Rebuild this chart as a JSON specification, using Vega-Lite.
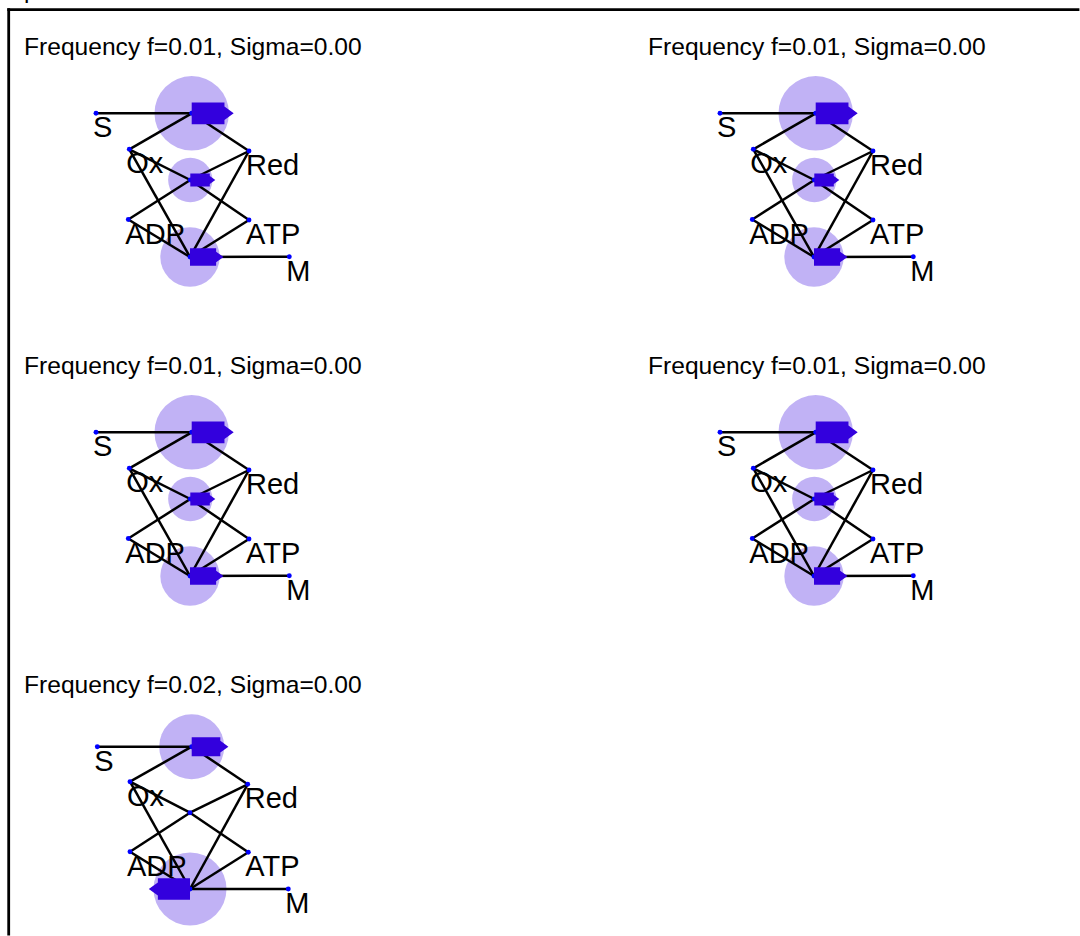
{
  "$schema": "https://vega.github.io/schema/vega-lite/v6.json",
  "autosize": {"type": "pad"},
  "padding": {"left": 6, "top": -21, "right": 0, "bottom": 0},
  "datasets": {
    "graph": [
      {"kind": "frame", "panel": 1, "caption": "p"},

      {"kind": "title", "panel": 1, "text": "Frequency f=0.01, Sigma=0.00"},
      {"kind": "title", "panel": 2, "text": "Frequency f=0.01, Sigma=0.00"},
      {"kind": "title", "panel": 3, "text": "Frequency f=0.01, Sigma=0.00"},
      {"kind": "title", "panel": 4, "text": "Frequency f=0.01, Sigma=0.00"},
      {"kind": "title", "panel": 5, "text": "Frequency f=0.02, Sigma=0.00"},

      {"kind": "species", "panel": 1, "label": "S", "x": 7.2, "y": 7.73, "links": ["S-R1"]},
      {"kind": "species", "panel": 1, "label": "Ox", "x": 10.53, "y": 11.33, "links": ["Ox-R1", "Ox-R2", "Ox-R3"]},
      {"kind": "species", "panel": 1, "label": "Red", "x": 22.5, "y": 11.5, "links": ["Red-R1", "Red-R2", "Red-R3"]},
      {"kind": "species", "panel": 1, "label": "ADP", "x": 10.43, "y": 18.35, "links": ["ADP-R2", "ADP-R3"]},
      {"kind": "species", "panel": 1, "label": "ATP", "x": 22.5, "y": 18.4, "links": ["ATP-R2", "ATP-R3"]},
      {"kind": "species", "panel": 1, "label": "M", "x": 26.53, "y": 22.08, "links": ["M-R3"]},
      {"kind": "reaction", "panel": 1, "x": 16.77, "y": 7.73, "v": 4.2, "dir": "forward", "links": ["S-R1", "Ox-R1", "Red-R1"]},
      {"kind": "reaction", "panel": 1, "x": 16.63, "y": 14.4, "v": 2.5, "dir": "forward", "links": ["Ox-R2", "Red-R2", "ADP-R2", "ATP-R2"]},
      {"kind": "reaction", "panel": 1, "x": 16.6, "y": 22.1, "v": 3.35, "dir": "forward", "links": ["Ox-R3", "Red-R3", "ADP-R3", "ATP-R3", "M-R3"]},

      {"kind": "species", "panel": 2, "label": "S", "x": 7.2, "y": 7.73, "links": ["S-R1"]},
      {"kind": "species", "panel": 2, "label": "Ox", "x": 10.53, "y": 11.33, "links": ["Ox-R1", "Ox-R2", "Ox-R3"]},
      {"kind": "species", "panel": 2, "label": "Red", "x": 22.5, "y": 11.5, "links": ["Red-R1", "Red-R2", "Red-R3"]},
      {"kind": "species", "panel": 2, "label": "ADP", "x": 10.43, "y": 18.35, "links": ["ADP-R2", "ADP-R3"]},
      {"kind": "species", "panel": 2, "label": "ATP", "x": 22.5, "y": 18.4, "links": ["ATP-R2", "ATP-R3"]},
      {"kind": "species", "panel": 2, "label": "M", "x": 26.53, "y": 22.08, "links": ["M-R3"]},
      {"kind": "reaction", "panel": 2, "x": 16.77, "y": 7.73, "v": 4.2, "dir": "forward", "links": ["S-R1", "Ox-R1", "Red-R1"]},
      {"kind": "reaction", "panel": 2, "x": 16.63, "y": 14.4, "v": 2.5, "dir": "forward", "links": ["Ox-R2", "Red-R2", "ADP-R2", "ATP-R2"]},
      {"kind": "reaction", "panel": 2, "x": 16.6, "y": 22.1, "v": 3.35, "dir": "forward", "links": ["Ox-R3", "Red-R3", "ADP-R3", "ATP-R3", "M-R3"]},

      {"kind": "species", "panel": 3, "label": "S", "x": 7.2, "y": 7.73, "links": ["S-R1"]},
      {"kind": "species", "panel": 3, "label": "Ox", "x": 10.53, "y": 11.33, "links": ["Ox-R1", "Ox-R2", "Ox-R3"]},
      {"kind": "species", "panel": 3, "label": "Red", "x": 22.5, "y": 11.5, "links": ["Red-R1", "Red-R2", "Red-R3"]},
      {"kind": "species", "panel": 3, "label": "ADP", "x": 10.43, "y": 18.35, "links": ["ADP-R2", "ADP-R3"]},
      {"kind": "species", "panel": 3, "label": "ATP", "x": 22.5, "y": 18.4, "links": ["ATP-R2", "ATP-R3"]},
      {"kind": "species", "panel": 3, "label": "M", "x": 26.53, "y": 22.08, "links": ["M-R3"]},
      {"kind": "reaction", "panel": 3, "x": 16.77, "y": 7.73, "v": 4.2, "dir": "forward", "links": ["S-R1", "Ox-R1", "Red-R1"]},
      {"kind": "reaction", "panel": 3, "x": 16.63, "y": 14.4, "v": 2.5, "dir": "forward", "links": ["Ox-R2", "Red-R2", "ADP-R2", "ATP-R2"]},
      {"kind": "reaction", "panel": 3, "x": 16.6, "y": 22.1, "v": 3.35, "dir": "forward", "links": ["Ox-R3", "Red-R3", "ADP-R3", "ATP-R3", "M-R3"]},

      {"kind": "species", "panel": 4, "label": "S", "x": 7.2, "y": 7.73, "links": ["S-R1"]},
      {"kind": "species", "panel": 4, "label": "Ox", "x": 10.53, "y": 11.33, "links": ["Ox-R1", "Ox-R2", "Ox-R3"]},
      {"kind": "species", "panel": 4, "label": "Red", "x": 22.5, "y": 11.5, "links": ["Red-R1", "Red-R2", "Red-R3"]},
      {"kind": "species", "panel": 4, "label": "ADP", "x": 10.43, "y": 18.35, "links": ["ADP-R2", "ADP-R3"]},
      {"kind": "species", "panel": 4, "label": "ATP", "x": 22.5, "y": 18.4, "links": ["ATP-R2", "ATP-R3"]},
      {"kind": "species", "panel": 4, "label": "M", "x": 26.53, "y": 22.08, "links": ["M-R3"]},
      {"kind": "reaction", "panel": 4, "x": 16.77, "y": 7.73, "v": 4.2, "dir": "forward", "links": ["S-R1", "Ox-R1", "Red-R1"]},
      {"kind": "reaction", "panel": 4, "x": 16.63, "y": 14.4, "v": 2.5, "dir": "forward", "links": ["Ox-R2", "Red-R2", "ADP-R2", "ATP-R2"]},
      {"kind": "reaction", "panel": 4, "x": 16.6, "y": 22.1, "v": 3.35, "dir": "forward", "links": ["Ox-R3", "Red-R3", "ADP-R3", "ATP-R3", "M-R3"]},

      {"kind": "species", "panel": 5, "label": "S", "x": 7.33, "y": 7.27, "links": ["S-R1"]},
      {"kind": "species", "panel": 5, "label": "Ox", "x": 10.6, "y": 10.77, "links": ["Ox-R1", "Ox-R2", "Ox-R3"]},
      {"kind": "species", "panel": 5, "label": "Red", "x": 22.37, "y": 11.03, "links": ["Red-R1", "Red-R2", "Red-R3"]},
      {"kind": "species", "panel": 5, "label": "ADP", "x": 10.6, "y": 17.77, "links": ["ADP-R2", "ADP-R3"]},
      {"kind": "species", "panel": 5, "label": "ATP", "x": 22.43, "y": 17.83, "links": ["ATP-R2", "ATP-R3"]},
      {"kind": "species", "panel": 5, "label": "M", "x": 26.43, "y": 21.5, "links": ["M-R3"]},
      {"kind": "reaction", "panel": 5, "x": 16.77, "y": 7.27, "v": 3.67, "dir": "forward", "links": ["S-R1", "Ox-R1", "Red-R1"]},
      {"kind": "reaction", "panel": 5, "x": 16.6, "y": 13.87, "v": 0.12, "dir": "forward", "links": ["Ox-R2", "Red-R2", "ADP-R2", "ATP-R2"]},
      {"kind": "reaction", "panel": 5, "x": 16.6, "y": 21.5, "v": 4.12, "dir": "reverse", "links": ["Ox-R3", "Red-R3", "ADP-R3", "ATP-R3", "M-R3"]}
    ]
  },
  "data": {"name": "graph"},
  "facet": {"field": "panel", "type": "ordinal", "header": {"labels": false, "title": null, "labelFontSize": 0, "labelPadding": 0, "labelColor": "transparent"}},
  "columns": 2,
  "spacing": {"row": 59, "column": 224},
  "bounds": "flush",
  "spec": {
    "width": 400,
    "height": 260,
    "layer": [
      {
        "transform": [{"filter": "datum.kind === 'frame'"}],
        "mark": {"type": "rule", "color": "black", "strokeWidth": 2.8, "strokeCap": "square"},
        "encoding": {
          "x": {"datum": -1.53, "type": "quantitative", "axis": null, "scale": {"domain": [0, 40], "nice": false, "zero": false}},
          "x2": {"datum": 105.4},
          "y": {"datum": -2.63, "type": "quantitative", "axis": null, "scale": {"domain": [0, 26], "nice": false, "zero": false, "reverse": true}}
        }
      },
      {
        "transform": [{"filter": "datum.kind === 'frame'"}],
        "mark": {"type": "rule", "color": "black", "strokeWidth": 2.8, "strokeCap": "square"},
        "encoding": {
          "x": {"datum": -1.53, "type": "quantitative", "axis": null},
          "y": {"datum": -2.63, "type": "quantitative", "axis": null},
          "y2": {"datum": 89.8}
        }
      },
      {
        "transform": [{"filter": "datum.kind === 'frame'"}],
        "mark": {"type": "text", "align": "left", "baseline": "alphabetic", "fontSize": 24, "color": "black"},
        "encoding": {
          "x": {"datum": 0, "type": "quantitative", "axis": null},
          "y": {"datum": -3.8, "type": "quantitative", "axis": null},
          "text": {"field": "caption"}
        }
      },
      {
        "transform": [{"filter": "datum.kind === 'title'"}],
        "mark": {"type": "text", "align": "left", "baseline": "top", "fontSize": 24.6, "color": "black"},
        "encoding": {
          "x": {"datum": 0, "type": "quantitative", "axis": null},
          "y": {"datum": 0, "type": "quantitative", "axis": null},
          "text": {"field": "text"}
        }
      },
      {
        "transform": [{"filter": "datum.kind === 'reaction'"}],
        "mark": {"type": "point", "shape": "circle", "filled": true, "color": "#3300dd", "opacity": 0.3, "strokeWidth": 0},
        "encoding": {
          "x": {"field": "x", "type": "quantitative", "axis": null},
          "y": {"field": "y", "type": "quantitative", "axis": null},
          "size": {"field": "v", "type": "quantitative", "legend": null, "scale": {"type": "pow", "exponent": 2, "domain": [0, 5], "range": [0, 7854], "zero": true}}
        }
      },
      {
        "transform": [
          {"filter": "datum.kind === 'species' || datum.kind === 'reaction'"},
          {"flatten": ["links"]}
        ],
        "mark": {"type": "line", "color": "black", "strokeWidth": 2.5},
        "encoding": {
          "x": {"field": "x", "type": "quantitative", "axis": null},
          "y": {"field": "y", "type": "quantitative", "axis": null},
          "detail": {"field": "links", "type": "nominal"}
        }
      },
      {
        "transform": [{"filter": "datum.kind === 'species' || datum.kind === 'reaction'"}],
        "mark": {"type": "point", "shape": "circle", "filled": true, "color": "#0000ff", "opacity": 1, "size": 24, "strokeWidth": 0},
        "encoding": {
          "x": {"field": "x", "type": "quantitative", "axis": null},
          "y": {"field": "y", "type": "quantitative", "axis": null}
        }
      },
      {
        "transform": [{"filter": "datum.kind === 'reaction'"}],
        "mark": {"type": "point", "filled": true, "color": "#3300dd", "opacity": 1, "strokeWidth": 0},
        "encoding": {
          "x": {"field": "x", "type": "quantitative", "axis": null},
          "y": {"field": "y", "type": "quantitative", "axis": null},
          "size": {"field": "v", "type": "quantitative", "legend": null},
          "shape": {
            "field": "dir", "type": "nominal", "legend": null,
            "scale": {
              "domain": ["forward", "reverse"],
              "range": [
                "M0,-0.2934L0.8802,-0.2934L0.8802,-0.1805L1.1284,0L0.8802,0.1805L0.8802,0.2934L0,0.2934Z",
                "M0,-0.2934L-0.8802,-0.2934L-0.8802,-0.1805L-1.1284,0L-0.8802,0.1805L-0.8802,0.2934L0,0.2934Z"
              ]
            }
          }
        }
      },
      {
        "transform": [{"filter": "datum.kind === 'species'"}],
        "mark": {"type": "text", "align": "left", "baseline": "alphabetic", "fontSize": 29, "dx": -3, "dy": 24, "color": "black"},
        "encoding": {
          "x": {"field": "x", "type": "quantitative", "axis": null},
          "y": {"field": "y", "type": "quantitative", "axis": null},
          "text": {"field": "label"}
        }
      }
    ]
  },
  "config": {
    "view": {"stroke": null},
    "font": "Liberation Sans",
    "headerFacet": {"labels": false, "labelFontSize": 0, "labelPadding": 0},
    "header": {"labels": false, "labelFontSize": 0, "labelPadding": 0}
  }
}
